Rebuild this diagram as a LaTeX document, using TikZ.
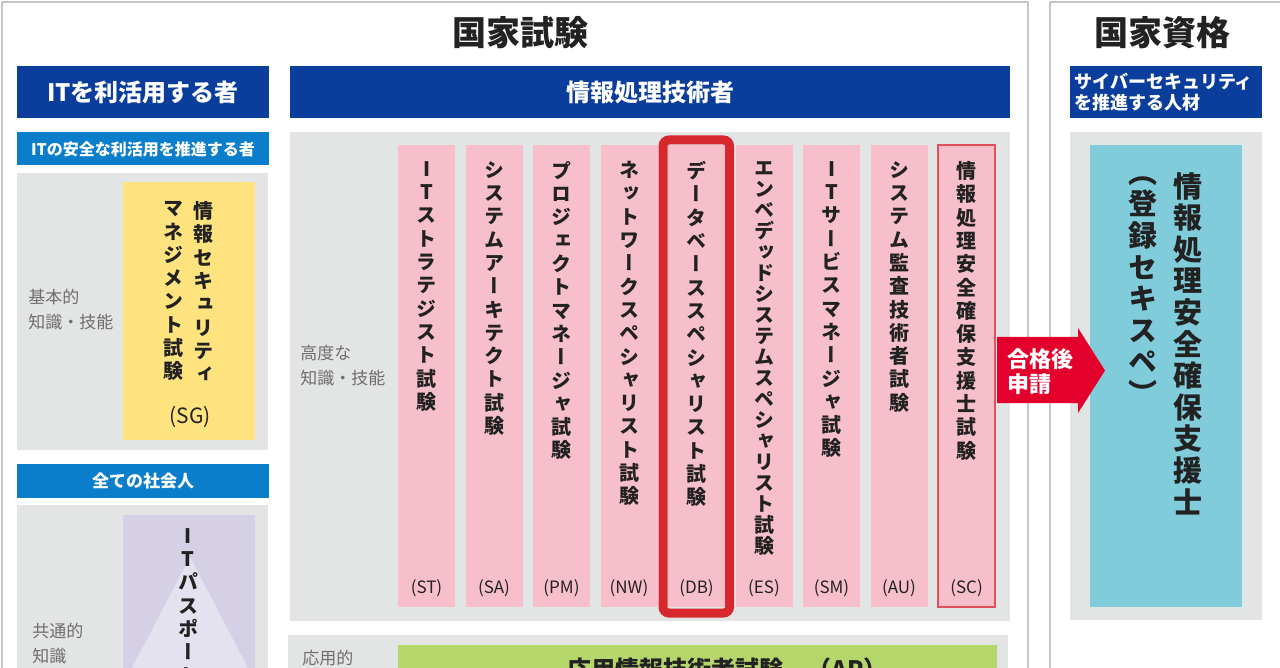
\documentclass[tikz,border=0pt]{standalone}
\usepackage{fontspec}
\newfontfamily\jp{Noto Sans CJK JP}
\newfontfamily\jpv[RawFeature=+vert]{Noto Sans CJK JP}

\definecolor{navy}{HTML}{0B3E9C}
\definecolor{skyhead}{HTML}{0A7DCB}
\definecolor{panel}{HTML}{E3E4E4}
\definecolor{exampink}{HTML}{F7BFCB}
\definecolor{sgyellow}{HTML}{FFE37E}
\definecolor{iplav}{HTML}{D5D0E6}
\definecolor{iptri}{HTML}{E4E2EE}
\definecolor{apgreen}{HTML}{B4D66B}
\definecolor{certblue}{HTML}{80CCDA}
\definecolor{passred}{HTML}{E3002C}
\definecolor{dbred}{HTML}{D7282E}
\definecolor{scred}{HTML}{E2505C}
\definecolor{framegrey}{HTML}{C6C6C6}
\definecolor{labelgrey}{HTML}{6E6E6E}
\definecolor{ink}{HTML}{222222}

% vertical writing: one character per line
\newcommand\tate[1]{\tatefirst#1\relax}
\def\tatefirst#1{#1\taterest}
\def\taterest#1{\ifx\relax#1\expandafter\tatestop\else\expandafter\tatego\fi#1}
\def\tatestop#1{}
\def\tatego#1{\\#1\taterest}

\tikzset{
  title/.style={font=\jp\bfseries\fontsize{17}{19}\selectfont, text=ink},
  headtext/.style={font=\jp\bfseries\fontsize{12}{14}\selectfont, text=white},
  subtext/.style={font=\jp\bfseries\fontsize{8}{10}\selectfont, text=white},
  examtext/.style={anchor=north, inner sep=0, align=center, text=ink,
    font=\jpv\bfseries\fontsize{10}{11.65}\selectfont},
  certtext/.style={anchor=north, inner sep=0, align=center, text=ink,
    font=\jpv\bfseries\fontsize{14.5}{15.8}\selectfont},
  code/.style={font=\jp\fontsize{8.5}{10}\selectfont, text=ink},
  lvl/.style={anchor=west, align=left, inner sep=0, text=labelgrey,
    font=\jp\fontsize{8.5}{12.5}\selectfont}
}

\begin{document}
\begin{tikzpicture}[x=0.5pt,y=-0.5pt]
  \useasboundingbox (0,0) rectangle (1280,668);
  \clip (0,0) rectangle (1280,668);
  \fill [white] (0,0) rectangle (1280,668);

  % frames
  \draw [framegrey, line width=1pt] (2,2) rectangle (1028,700);
  \draw [framegrey, line width=1pt] (1050,2) rectangle (1300,700);
  \node (kokka) [title] at (520,33) {国家試験};
  \node (shikaku) [title] at (1162,33) {国家資格};

  % header bars
  \fill [navy] (17,66) rectangle (269,118);
  \node (user) [headtext] at (143,92) {ITを利活用する者};
  \fill [navy] (290,66) rectangle (1010,118);
  \node (engineer) [headtext] at (650,92) {情報処理技術者};
  \fill [navy] (1070,66) rectangle (1262,118);
  \node (cyber) [anchor=west, align=left, inner sep=0, text=white,
    font=\jp\bfseries\fontsize{9}{10.5}\selectfont] at (1074,92)
    {サイバーセキュリティ\\を推進する人材};

  % left column
  \fill [skyhead] (17,132) rectangle (269,165);
  \node (safe) [subtext] at (143,149) {ITの安全な利活用を推進する者};
  \fill [panel] (17,173) rectangle (268,450);
  \node (basic) [lvl] at (28,310) {基本的\\知識・技能};
  \fill [sgyellow] (123,182) rectangle (255,440);
  \node (sgname) [examtext] at (203,201) {\tate{情報セキュリティ}};
  \node (sgname2) [examtext] at (173,201) {\tate{マネジメント試験}};
  \node (sgcode) [font=\jp\fontsize{10.5}{12}\selectfont, text=ink] at (190,417) {(SG)};

  \fill [skyhead] (17,464) rectangle (269,498);
  \node (all) [subtext, font=\jp\bfseries\fontsize{8.5}{10}\selectfont] at (143,481) {全ての社会人};
  \fill [panel] (17,505) rectangle (268,700);
  \node (common) [lvl] at (32,643.5) {共通的\\知識};
  \fill [iplav] (123,515) rectangle (255,700);
  \fill [iptri] (190,557) -- (248,668) -- (132,668) -- cycle;
  \node (ipass) [examtext] at (188,528) {\tate{ITパスポート}};

  % middle: advanced exams
  \fill [panel] (290,132) rectangle (1010,621);
  \node (advanced) [lvl] at (300,365.5) {高度な\\知識・技能};

  \fill [exampink] (398,145) rectangle (455,607);
  \node (st) [examtext] at (426.5,161) {\tate{ITストラテジスト試験}};
  \node (stcode) [code] at (426.5,588) {(ST)};
  \fill [exampink] (465.5,145) rectangle (522.5,607);
  \node (sa) [examtext] at (494,161) {\tate{システムアーキテクト試験}};
  \node (sacode) [code] at (494,588) {(SA)};
  \fill [exampink] (533,145) rectangle (590,607);
  \node (pm) [examtext] at (561.5,161) {\tate{プロジェクトマネージャ試験}};
  \node (pmcode) [code] at (561.5,588) {(PM)};
  \fill [exampink] (600.5,145) rectangle (657.5,607);
  \node (nw) [examtext] at (629,161) {\tate{ネットワークスペシャリスト試験}};
  \node (nwcode) [code] at (629,588) {(NW)};
  \fill [exampink] (668,145) rectangle (725,607);
  \node (db) [examtext] at (696.5,161) {\tate{データベーススペシャリスト試験}};
  \node (dbcode) [code] at (696.5,588) {(DB)};
  \fill [exampink] (735.5,145) rectangle (792.5,607);
  \node (es) [examtext, font=\jpv\bfseries\fontsize{10}{10.5}\selectfont] at (764,161)
    {\tate{エンベデッドシステムスペシャリスト試験}};
  \node (escode) [code] at (764,588) {(ES)};
  \fill [exampink] (803,145) rectangle (860,607);
  \node (sm) [examtext] at (831.5,161) {\tate{ITサービスマネージャ試験}};
  \node (smcode) [code] at (831.5,588) {(SM)};
  \fill [exampink] (870.5,145) rectangle (927.5,607);
  \node (au) [examtext] at (899,161) {\tate{システム監査技術者試験}};
  \node (aucode) [code] at (899,588) {(AU)};
  \fill [exampink] (938,145) rectangle (995,607);
  \draw [scred, line width=0.75pt] (938,145) rectangle (995,607);
  \node (sc) [examtext] at (966.5,161) {\tate{情報処理安全確保支援士試験}};
  \node (sccode) [code] at (966.5,588) {(SC)};

  % highlighted exam
  \draw [dbred, line width=4.5pt, rounded corners=3pt] (663,140) rectangle (729.5,613);

  % middle: applied level
  \fill [panel] (288,635) rectangle (1008,700);
  \node (applied) [lvl] at (302,658) {応用的};
  \fill [apgreen] (398,645) rectangle (997,700);
  \node (ap) [anchor=west, inner sep=0, text=ink,
    font=\jp\bfseries\fontsize{12}{14}\selectfont] at (567,669) {応用情報技術者試験　（AP）};

  % right: national qualification
  \fill [panel] (1070,132) rectangle (1262,620);
  \fill [certblue] (1090,145) rectangle (1242,607);
  \node (cert) [certtext] at (1188,172) {\tate{情報処理安全確保支援士}};
  \node (certnick) [certtext] at (1143,176) {\tate{（登録セキスペ）}};

  % pass arrow
  \fill [passred] (997,337) -- (1078,337) -- (1078,328) -- (1105,370.5)
    -- (1078,413) -- (1078,403) -- (997,403) -- cycle;
  \node (pass) [anchor=west, align=left, inner sep=0, text=white,
    font=\jp\bfseries\fontsize{11}{12.5}\selectfont] at (1007,372) {合格後\\申請};
\end{tikzpicture}
\end{document}
